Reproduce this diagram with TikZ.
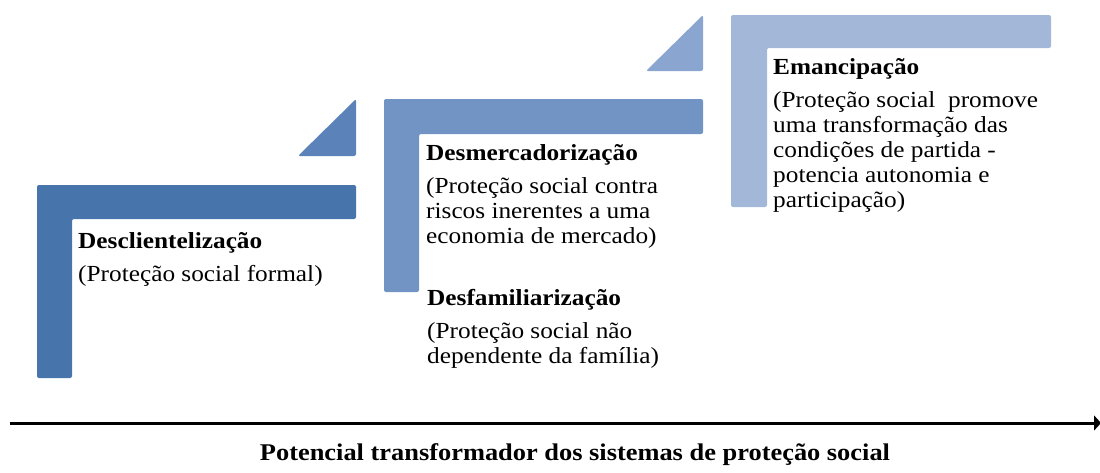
\documentclass[tikz,border=0pt]{standalone}
\usepackage{fontspec}
\setmainfont{Liberation Serif}[FakeStretch=1.1]
\usepackage{tikz}
\usetikzlibrary{arrows.meta,positioning,calc}

\definecolor{stepone}{RGB}{72,116,172}
\definecolor{triaone}{RGB}{91,131,185}
\definecolor{steptwo}{RGB}{113,148,196}
\definecolor{triatwo}{RGB}{138,165,207}
\definecolor{stepthree}{RGB}{163,183,216}

\begin{document}
\begin{tikzpicture}[x=1pt, y=-1pt,
    stair/.style={rounded corners=2pt},
    steptext/.style={anchor=base west, inner sep=0pt, align=left, font=\fontsize{23}{25}\selectfont},
    axis/.style={line width=3pt, -{Triangle[length=7pt, width=15pt]}}]
  \useasboundingbox (0,0) rectangle (1100,472);
  % stairs
  \fill[stair, stepone] (37,185) -- (356,185) -- (356,219) -- (72,219) -- (72,378) -- (37,378) -- cycle;
  \fill[stair, triaone] (356,99) -- (356,156) -- (298,156) -- cycle;
  \fill[stair, steptwo] (384,99) -- (703,99) -- (703,134) -- (419,134) -- (419,292) -- (384,292) -- cycle;
  \fill[stair, triatwo] (703,15) -- (703,71) -- (646,71) -- cycle;
  \fill[stair, stepthree] (731,15) -- (1051,15) -- (1051,48) -- (767,48) -- (767,207) -- (731,207) -- cycle;
  % texts (anchored at the baseline of their last line)
  \node[steptext] (descli) at (78,281) {\textbf{Desclientelização}\\[8pt](Proteção social formal)};
  \node[steptext] (desmerc) at (426,243) {\textbf{Desmercadorização}\\[8pt](Proteção social contra\\riscos inerentes a uma\\economia de mercado)};
  \node[steptext] (desfam) at (427,363) {\textbf{Desfamiliarização}\\[8pt](Proteção social não\\dependente da família)};
  \node[steptext] (emanc) at (773,207) {\textbf{Emancipação}\\[8pt](Proteção social\ \ promove\\uma transformação das\\condições de partida -\\potencia autonomia e\\participação)};
  % axis
  \coordinate (axisstart) at (10,423);
  \coordinate (axisend) at (1101,423);
  \draw[axis] (axisstart) -- (axisend);
  \node[anchor=base, inner sep=0pt, font=\fontsize{24}{28}\selectfont\bfseries] (potential) at (575,460) {Potencial transformador dos sistemas de proteção social};
\end{tikzpicture}
\end{document}
